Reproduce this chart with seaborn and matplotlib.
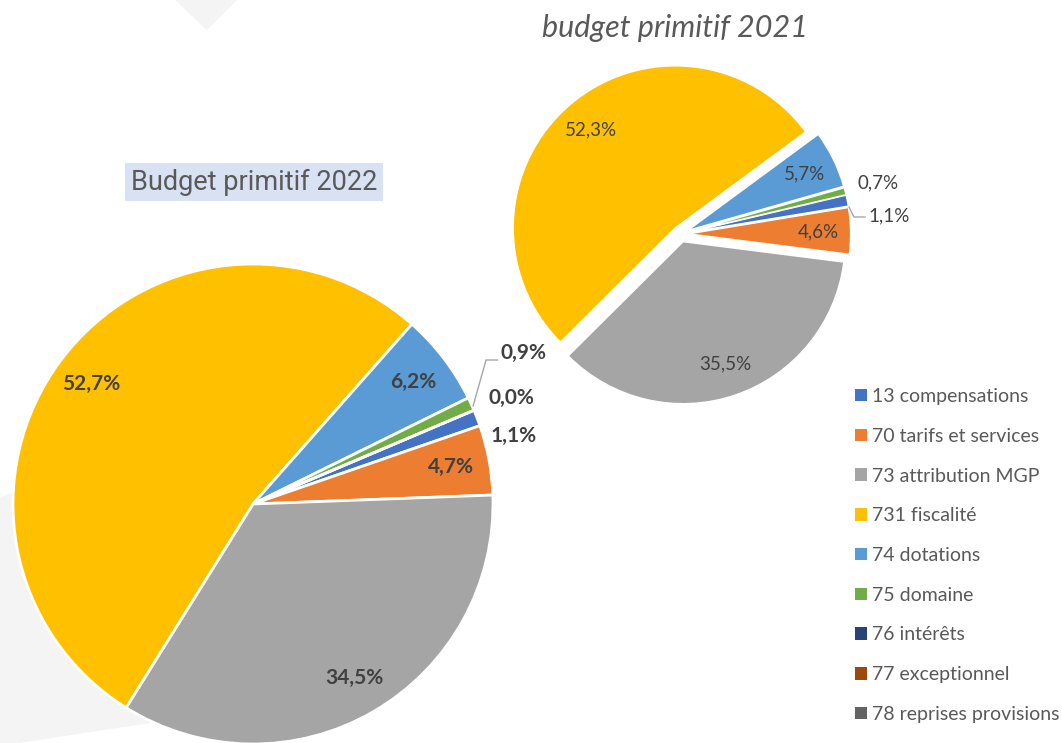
import matplotlib
matplotlib.use("Agg")
import matplotlib.pyplot as plt
from matplotlib.patches import Patch, Polygon
import numpy as np
import seaborn as sns

# data
categories = ["13 compensations", "70 tarifs et services", "73 attribution MGP",
              "731 fiscalité", "74 dotations", "75 domaine", "76 intérêts",
              "77 exceptionnel", "78 reprises provisions"]
colors = ["#4472C4", "#ED7D31", "#A5A5A5", "#FFC000", "#5B9BD5",
          "#70AD47", "#264478", "#9E480E", "#636363"]
bp2022 = [1.1, 4.7, 34.5, 52.7, 6.2, 0.9, 0.0]
bp2021 = [1.1, 4.6, 35.5, 52.3, 5.7, 0.7]

sns.set_theme(style="white")
plt.rcParams["font.family"] = ["Lato", "DejaVu Sans"]

W, H = 1062, 743
fig = plt.figure(figsize=(W / 100, H / 100), dpi=100)
fig.patch.set_facecolor("white")


def fmt(v):
    return f"{v:.1f}".replace(".", ",") + "%"


def pie_axes(cx, cy, r):
    # cx, cy, r in pixels (from top-left)
    return fig.add_axes([(cx - r) / W, (H - cy - r) / H, 2 * r / W, 2 * r / H])


# faint background shapes
bg = fig.add_axes([0, 0, 1, 1], zorder=-5)
bg.set_xlim(0, W)
bg.set_ylim(H, 0)
bg.axis("off")
bg.add_patch(Polygon([(175, 0), (237, 0), (207, 30)], color="#F4F4F4", lw=0))
bg.add_patch(Polygon([(0, 497), (200, 430), (380, 680), (150, 723), (0, 746)],
                     color="#F4F4F4", lw=0))

# ---- Budget primitif 2022 ----
ax1 = pie_axes(253, 504, 240)
vals = [v if v > 0 else 1e-6 for v in bp2022]
wedges, _ = ax1.pie(vals, colors=colors[:len(vals)], startangle=23, counterclock=False,
                    wedgeprops=dict(edgecolor="white", linewidth=2))
ax1.set_xlim(-1, 1)
ax1.set_ylim(-1, 1)
ax1.set_aspect("equal")
ax1.axis("off")
for w, v in zip(wedges, bp2022):
    if v < 2:
        continue
    a = np.deg2rad((w.theta1 + w.theta2) / 2)
    ax1.text(0.84 * np.cos(a), 0.84 * np.sin(a), fmt(v), ha="center", va="center",
             fontsize=15, fontweight="bold", color="#404040")
small1 = {5: (1.03, 0.63), 6: (0.98, 0.44), 0: (0.99, 0.285)}
for i, (x, y) in small1.items():
    ax1.text(x, y, fmt(bp2022[i]), ha="left", va="center",
             fontsize=15, fontweight="bold", color="#404040")
ax1.plot([0.917, 0.971, 1.02], [0.408, 0.6, 0.6], color="#A6A6A6", lw=1, clip_on=False)

# Budget primitif 2022 title
fig.text(254 / W, 1 - 182 / H, "Budget primitif 2022", ha="center", va="center",
         fontsize=19.5, color="#595959", family=["Roboto", "DejaVu Sans"],
         bbox=dict(boxstyle="square,pad=0.2", fc="#D9E2F3", ec="none"))

# ---- budget primitif 2021 ----
ax2 = pie_axes(680.5, 234, 162)
wedges2, _ = ax2.pie(bp2021, colors=colors[:len(bp2021)], startangle=13.3,
                     counterclock=False, explode=[0.05] * len(bp2021),
                     wedgeprops=dict(edgecolor="white", linewidth=1))
ax2.set_xlim(-1, 1)
ax2.set_ylim(-1, 1)
ax2.set_aspect("equal")
ax2.axis("off")
for w, v in zip(wedges2, bp2021):
    if v < 2:
        continue
    a = np.deg2rad((w.theta1 + w.theta2) / 2)
    ax2.text(0.85 * np.cos(a), 0.85 * np.sin(a), fmt(v), ha="center", va="center",
             fontsize=13.5, color="#404040")
small2 = {5: (1.09, 0.315), 0: (1.16, 0.11)}
for i, (x, y) in small2.items():
    ax2.text(x, y, fmt(bp2021[i]), ha="left", va="center", fontsize=13.5, color="#404040")
ax2.plot([1.04, 1.071, 1.14], [0.167, 0.105, 0.105], color="#A6A6A6", lw=1, clip_on=False)

fig.text(675 / W, 1 - 28 / H, "budget primitif 2021", ha="center", va="center",
         fontsize=22, style="italic", color="#595959")

# legend
handles = [Patch(facecolor=c, edgecolor="none") for c in colors]
fig.legend(handles, categories, loc="upper left", bbox_to_anchor=(855 / W, 1 - 388 / H),
           frameon=False, fontsize=14, handlelength=0.6, handleheight=0.6,
           handletextpad=0.3, labelspacing=1.17, labelcolor="#595959",
           borderaxespad=0, borderpad=0)

fig.savefig("out.png", dpi=100)
